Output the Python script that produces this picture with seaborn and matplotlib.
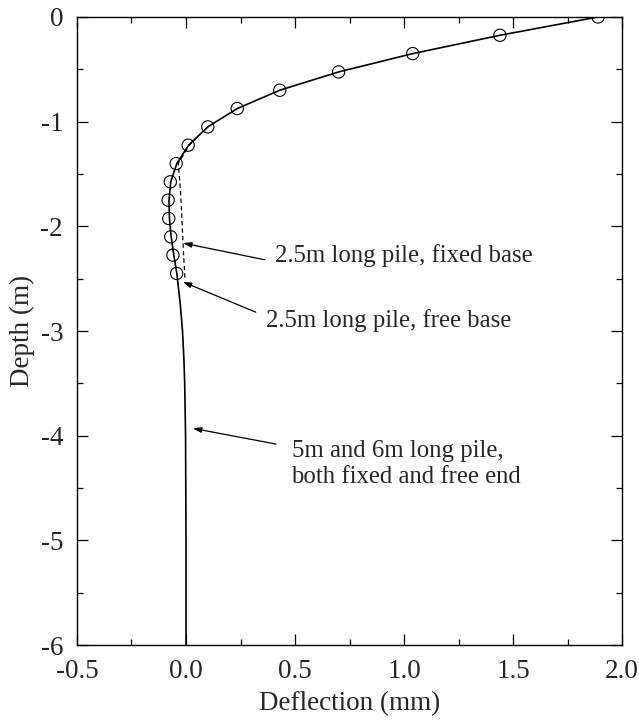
import matplotlib
matplotlib.use("Agg")
import matplotlib.pyplot as plt
from matplotlib.ticker import MultipleLocator, FormatStrFormatter
import seaborn as sns

# 2.5m pile, free base (circles)
depth_free = [0, -0.175, -0.35, -0.525, -0.7, -0.875, -1.05, -1.225, -1.4,
              -1.575, -1.75, -1.925, -2.1, -2.275, -2.45]
defl_free = [1.89, 1.44, 1.04, 0.70, 0.43, 0.235, 0.10, 0.01, -0.045,
             -0.072, -0.082, -0.079, -0.070, -0.060, -0.043]

# 5m and 6m piles (solid line)
depth_long = [0, -0.175, -0.35, -0.525, -0.7, -0.875, -1.05, -1.225, -1.4,
              -1.575, -1.75, -1.925, -2.1, -2.275, -2.45, -2.75, -3.0, -3.25,
              -3.5, -4.0, -4.5, -5.0, -5.5, -6.0]
defl_long = [1.89, 1.44, 1.04, 0.70, 0.43, 0.235, 0.10, 0.012, -0.042,
             -0.07, -0.078, -0.076, -0.068, -0.056, -0.042, -0.026, -0.016,
             -0.010, -0.006, -0.002, -0.001, 0.0, 0.0, 0.0]

# 2.5m pile, fixed base (dashed)
depth_fixed = [-1.05, -1.225, -1.4, -1.575, -1.75, -1.925, -2.1, -2.275, -2.45, -2.5]
defl_fixed = [0.10, 0.015, -0.036, -0.028, -0.023, -0.019, -0.015, -0.011, -0.006, -0.005]

labels = ["2.5m long pile, fixed base", "2.5m long pile, free base",
          "5m and 6m long pile,", "both fixed and free end"]

sns.set_style("ticks")
plt.rcParams["font.family"] = ["Liberation Serif", "DejaVu Serif"]
plt.rcParams["axes.unicode_minus"] = False

fig = plt.figure(figsize=(6.39, 7.22), dpi=100)
ax = fig.add_axes([0.1205, 0.1066, 0.8529, 0.8699])

sns.lineplot(x=defl_long, y=depth_long, sort=False, estimator=None,
             color="black", linewidth=1.2, ax=ax)
sns.lineplot(x=defl_fixed, y=depth_fixed, sort=False, estimator=None,
             color="black", linewidth=0.9, linestyle=(0, (3.5, 2.5)), ax=ax)
sns.scatterplot(x=defl_free, y=depth_free, marker="o", s=78,
                facecolors="none", edgecolor="black", linewidth=0.8, ax=ax)

ax.set_xlim(-0.5, 2.0)
ax.set_ylim(-6, 0)
ax.xaxis.set_major_locator(MultipleLocator(0.5))
ax.xaxis.set_minor_locator(MultipleLocator(0.25))
ax.yaxis.set_major_locator(MultipleLocator(1))
ax.yaxis.set_minor_locator(MultipleLocator(0.5))
ax.xaxis.set_major_formatter(FormatStrFormatter("%.1f"))
ax.yaxis.set_major_formatter(FormatStrFormatter("%d"))
ax.tick_params(which="both", direction="in", top=True, right=True,
               width=0.9, color="black")
ax.tick_params(which="major", length=8, labelsize=19.5, pad=10)
ax.tick_params(which="minor", length=4)
for s in ax.spines.values():
    s.set_linewidth(1.0)
    s.set_color("black")

ax.set_xlabel("Deflection (mm)", fontsize=19.5, labelpad=5)
ax.set_ylabel("Depth (m)", fontsize=19.5, labelpad=4)

arrow = dict(arrowstyle="-|>,head_length=0.5,head_width=0.16", color="black",
             lw=0.9, shrinkA=0, shrinkB=0)
ax.annotate("", xy=(-0.014, -2.16), xytext=(0.362, -2.32), arrowprops=arrow)
ax.annotate("", xy=(-0.015, -2.53), xytext=(0.32, -2.82), arrowprops=arrow)
ax.annotate("", xy=(0.031, -3.93), xytext=(0.413, -4.08), arrowprops=arrow)

ax.text(0.408, -2.338, labels[0], fontsize=17.8, va="baseline", ha="left")
ax.text(0.367, -2.959, labels[1], fontsize=17.8, va="baseline", ha="left")
ax.text(0.484, -4.202, labels[2], fontsize=17.8, va="baseline", ha="left")
ax.text(0.484, -4.45, labels[3], fontsize=17.8, va="baseline", ha="left")

fig.savefig("out.png", dpi=100)
